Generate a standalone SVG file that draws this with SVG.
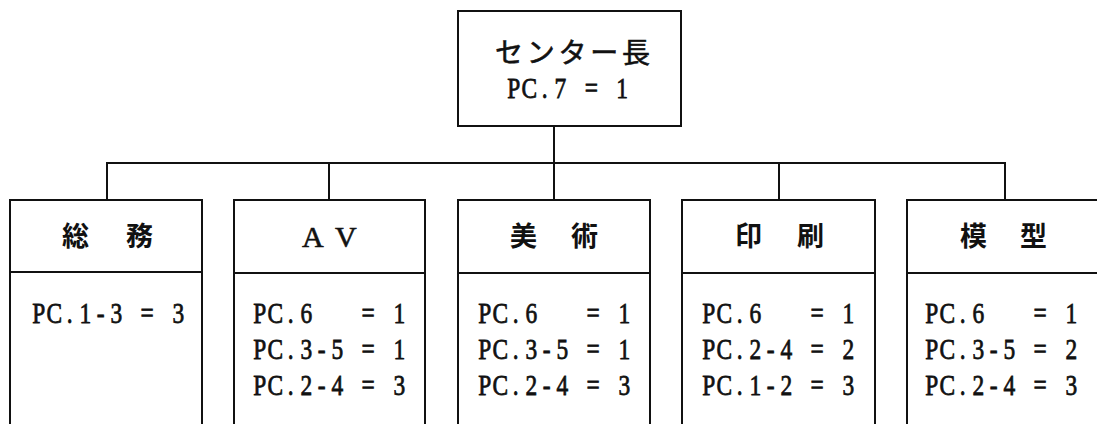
<svg xmlns="http://www.w3.org/2000/svg" width="1097" height="424" viewBox="0 0 1097 424">
<style>
.box{fill:none;stroke:#111;stroke-width:2}
.ln{fill:none;stroke:#111;stroke-width:2}
.jp{font-family:"Noto Sans CJK JP","Noto Sans CJK SC",sans-serif;font-size:27px;font-weight:bold;fill:#111}
.jt{font-family:"Noto Sans CJK JP","Noto Sans CJK SC",sans-serif;font-size:28px;font-weight:normal;fill:#111;stroke:#111;stroke-width:0.6}
.lat{font-family:"Liberation Serif",serif;font-size:30px;fill:#111;stroke:#111;stroke-width:0.6}
.pc{font-family:"Liberation Serif",serif;font-size:30px;fill:#111;stroke:#111;stroke-width:0.8;white-space:pre;text-anchor:middle}
</style>
<rect width="1097" height="424" fill="#fff"/>
<g id="connectors">
<path class="ln" d="M107,200 V163 H1005 V200"/>
<path class="ln" d="M554,126 V200"/>
<path class="ln" d="M329,163 V200"/>
<path class="ln" d="M779,163 V200"/>
</g>
<g id="center">
<rect class="box" x="458" y="11" width="223" height="115"/>
<text class="jt" x="495" y="63" textLength="155" lengthAdjust="spacing">センター長</text>
<text class="pc" transform="translate(506,98) scale(0.78,1)" x="9.9 29.8 49.7 69.6 89.4 109.3 129.2 149" y="0">PC.7 = 1</text>
</g>
<g id="somu">
<rect class="box" x="10" y="200" width="192" height="240"/>
<line class="ln" x1="10" y1="272" x2="202" y2="272"/>
<text class="jp" x="62 126" y="246">総務</text>
<text class="pc" transform="translate(31,323) scale(0.78,1)" x="9.9 29.8 49.7 69.6 89.4 109.3 129.2 149 168.9 188.8" y="0">PC.1-3 = 3</text>
</g>
<g id="av">
<rect class="box" x="234" y="200" width="191" height="240"/>
<line class="ln" x1="234" y1="273" x2="425" y2="273"/>
<text class="lat" x="302 335" y="247">AV</text>
<text class="pc" transform="translate(252,323) scale(0.78,1)" x="9.9 29.8 49.7 69.6 89.4 109.3 129.2 149 168.9 188.8" y="0">PC.6   = 1</text>
<text class="pc" transform="translate(252,359) scale(0.78,1)" x="9.9 29.8 49.7 69.6 89.4 109.3 129.2 149 168.9 188.8" y="0">PC.3-5 = 1</text>
<text class="pc" transform="translate(252,395) scale(0.78,1)" x="9.9 29.8 49.7 69.6 89.4 109.3 129.2 149 168.9 188.8" y="0">PC.2-4 = 3</text>
</g>
<g id="bijutsu">
<rect class="box" x="458" y="200" width="192" height="240"/>
<line class="ln" x1="458" y1="273" x2="650" y2="273"/>
<text class="jp" x="510 571" y="246">美術</text>
<text class="pc" transform="translate(477,323) scale(0.78,1)" x="9.9 29.8 49.7 69.6 89.4 109.3 129.2 149 168.9 188.8" y="0">PC.6   = 1</text>
<text class="pc" transform="translate(477,359) scale(0.78,1)" x="9.9 29.8 49.7 69.6 89.4 109.3 129.2 149 168.9 188.8" y="0">PC.3-5 = 1</text>
<text class="pc" transform="translate(477,395) scale(0.78,1)" x="9.9 29.8 49.7 69.6 89.4 109.3 129.2 149 168.9 188.8" y="0">PC.2-4 = 3</text>
</g>
<g id="insatsu">
<rect class="box" x="682" y="200" width="193" height="240"/>
<line class="ln" x1="682" y1="273" x2="875" y2="273"/>
<text class="jp" x="735 797" y="246">印刷</text>
<text class="pc" transform="translate(701,323) scale(0.78,1)" x="9.9 29.8 49.7 69.6 89.4 109.3 129.2 149 168.9 188.8" y="0">PC.6   = 1</text>
<text class="pc" transform="translate(701,359) scale(0.78,1)" x="9.9 29.8 49.7 69.6 89.4 109.3 129.2 149 168.9 188.8" y="0">PC.2-4 = 2</text>
<text class="pc" transform="translate(701,395) scale(0.78,1)" x="9.9 29.8 49.7 69.6 89.4 109.3 129.2 149 168.9 188.8" y="0">PC.1-2 = 3</text>
</g>
<g id="mokei">
<rect class="box" x="907" y="200" width="200" height="240"/>
<line class="ln" x1="907" y1="273" x2="1097" y2="273"/>
<text class="jp" x="960 1020" y="246">模型</text>
<text class="pc" transform="translate(924,323) scale(0.78,1)" x="9.9 29.8 49.7 69.6 89.4 109.3 129.2 149 168.9 188.8" y="0">PC.6   = 1</text>
<text class="pc" transform="translate(924,359) scale(0.78,1)" x="9.9 29.8 49.7 69.6 89.4 109.3 129.2 149 168.9 188.8" y="0">PC.3-5 = 2</text>
<text class="pc" transform="translate(924,395) scale(0.78,1)" x="9.9 29.8 49.7 69.6 89.4 109.3 129.2 149 168.9 188.8" y="0">PC.2-4 = 3</text>
</g>
</svg>
